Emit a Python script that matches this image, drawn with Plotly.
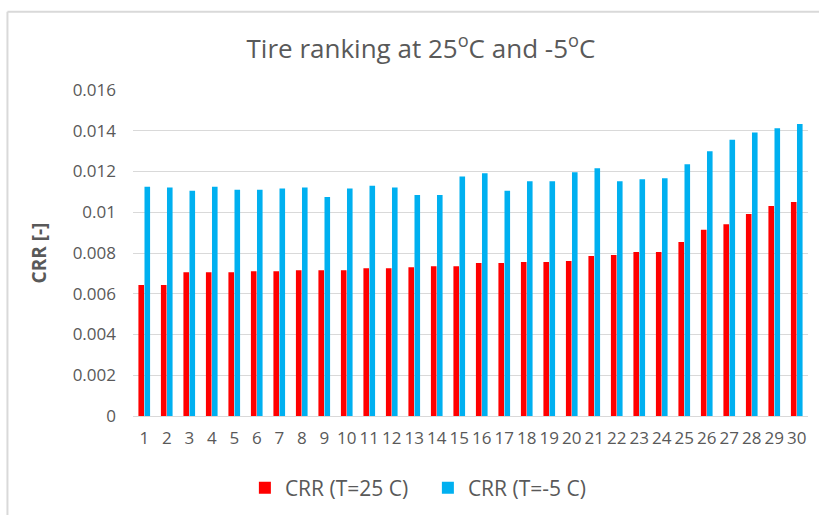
import plotly.graph_objects as go

# 타이어 번호와 CRR 값
tires = [str(i) for i in range(1, 31)]
crr_25 = [0.00643, 0.00643, 0.00705, 0.00705, 0.00705, 0.0071, 0.0071, 0.00715, 0.00715, 0.00715,
          0.00725, 0.00725, 0.0073, 0.00735, 0.00735, 0.00751, 0.00751, 0.00756, 0.00756, 0.00761,
          0.00785, 0.0079, 0.00805, 0.00805, 0.00854, 0.00914, 0.00941, 0.00991, 0.01031, 0.0105]
crr_m5 = [0.01125, 0.01121, 0.01106, 0.01125, 0.01111, 0.01111, 0.01116, 0.01121, 0.01075, 0.01116,
          0.0113, 0.01121, 0.01085, 0.01085, 0.01176, 0.01191, 0.01106, 0.01152, 0.01152, 0.01196,
          0.01216, 0.01152, 0.01162, 0.01167, 0.01235, 0.013, 0.01356, 0.01392, 0.01412, 0.01433]
y_ticks = [0, 0.002, 0.004, 0.006, 0.008, 0.01, 0.012, 0.014, 0.016]

txt = '#595959'
fnt = 'Open Sans'

fig = go.Figure()
fig.add_trace(go.Bar(x=tires, y=crr_25, name='CRR (T=25 C)',
                     marker=dict(color='#FF0000', line=dict(width=0))))
fig.add_trace(go.Bar(x=tires, y=crr_m5, name='CRR (T=-5 C)',
                     marker=dict(color='#00B0F0', line=dict(width=0))))

fig.update_layout(
    width=819, height=515,
    margin=dict(l=133, r=11, t=90, b=99),
    paper_bgcolor='white', plot_bgcolor='white',
    barmode='group', bargap=0.46, bargroupgap=0.08,
    font=dict(family=fnt, color=txt, size=13),
    title=dict(text='Tire ranking at 25<sup>o</sup>C and -5<sup>o</sup>C',
               x=0.514, xanchor='center', y=0.905, yanchor='middle',
               font=dict(size=26, color=txt, family=fnt)),
    legend=dict(orientation='h', x=0.299, xanchor='left', y=0.052, yanchor='middle',
                xref='container', yref='container',
                font=dict(size=21, color=txt), itemwidth=30, traceorder='normal',
                entrywidth=138, entrywidthmode='pixels'),
    xaxis=dict(type='category', showgrid=False, showline=True, linecolor='#D9D9D9',
               linewidth=1, ticks='', ticklabelstandoff=7, tickangle=0,
               tickfont=dict(size=17, color=txt)),
    yaxis=dict(range=[0, 0.016], tickvals=y_ticks, ticktext=[f'{v:g}' for v in y_ticks],
               showgrid=True, gridcolor='#D9D9D9', gridwidth=1, zeroline=False,
               ticks='', ticklabelstandoff=16, tickfont=dict(size=17, color=txt),
               title=dict(text='<b>CRR [-]</b>', font=dict(size=19, color=txt), standoff=20)),
    shapes=[
        dict(type='line', xref='paper', yref='paper', x0=-0.186, x1=1.02, y0=1.24, y1=1.24,
             line=dict(color='#D9D9D9', width=2)),
        dict(type='line', xref='paper', yref='paper', x0=-0.186, x1=-0.186, y0=1.24, y1=-0.31,
             line=dict(color='#D9D9D9', width=2)),
    ],
)

# 페이지 여백 제거, 모드바 숨김
fig.write_html("out.html", config={'displayModeBar': False},
               post_script="document.body.style.margin='0';")
